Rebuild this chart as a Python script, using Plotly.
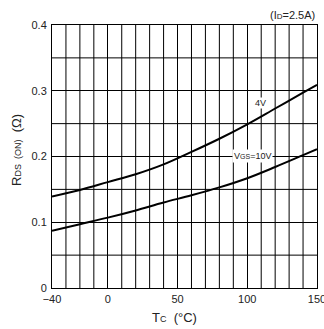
import plotly.graph_objects as go

tc = [-40, -20, 0, 20, 40, 60, 80, 100, 120, 140, 150]
r_4v = [0.139, 0.149, 0.161, 0.173, 0.188, 0.207, 0.227, 0.249, 0.273, 0.297, 0.309]
r_10v = [0.087, 0.097, 0.107, 0.118, 0.130, 0.141, 0.153, 0.167, 0.184, 0.202, 0.211]
x_ticks = [-40, 0, 50, 100, 150]
x_tick_text = ["\u221240", "0", "50", "100", "150"]
y_ticks = [0, 0.1, 0.2, 0.3, 0.4]
y_tick_text = ["0", "0.1", "0.2", "0.3", "0.4"]

font = "Liberation Sans, Arial, sans-serif"
fig = go.Figure()
for ys in (r_4v, r_10v):
    fig.add_trace(go.Scatter(x=tc, y=ys, mode="lines", line=dict(color="black", width=2, shape="spline"),
                             showlegend=False, hoverinfo="skip"))

fig.add_annotation(x=109.8, y=0.281, text="4V", showarrow=False, bgcolor="white",
                   font=dict(size=9, color="#222", family=font), borderpad=0)
fig.add_annotation(x=103.4, y=0.201, text="V<span style='font-size:7px'>GS</span>=10V", showarrow=False,
                   bgcolor="white", font=dict(size=9, color="#222", family=font), borderpad=1)
fig.add_annotation(x=1.0, y=1.0, xref="paper", yref="paper", xanchor="right", yanchor="bottom", yshift=2,
                   text="(I<span style='font-size:8px'>D</span>=2.5A)", showarrow=False,
                   font=dict(size=11, color="#222", family=font))
# axis titles
fig.add_annotation(x=0.464, y=-0.114, xref="paper", yref="paper", showarrow=False,
                   xanchor="center", yanchor="middle",
                   text="T<span style='font-size:9px'>C</span>  (°C)", font=dict(size=13, color="#222", family=font))
fig.add_annotation(x=-0.132, y=0.525, xref="paper", yref="paper", showarrow=False, textangle=-90,
                   xanchor="center", yanchor="middle",
                   text="R<span style='font-size:9px'>DS  (ON)</span>  (Ω)", font=dict(size=13, color="#222", family=font))

fig.update_xaxes(range=[-40, 150], tickvals=x_ticks, ticktext=x_tick_text, automargin=False,
                 showgrid=True, gridcolor="black", gridwidth=1, ticklabeloverflow="allow",
                 ticklabelstandoff=1,
                 showline=True, linecolor="black", linewidth=1, mirror=True,
                 zeroline=False, ticks="", tickfont=dict(size=11, color="#222", family=font))
fig.update_yaxes(range=[0, 0.4], tickvals=y_ticks, ticktext=y_tick_text, automargin=False,
                 showgrid=True, gridcolor="black", gridwidth=1, ticklabelstandoff=2,
                 showline=True, linecolor="black", linewidth=1, mirror=True,
                 zeroline=False, ticks="", tickfont=dict(size=11, color="#222", family=font))

# extra vertical gridlines every 10 and horizontal every 0.05
for v in range(-30, 150, 10):
    if v not in x_ticks:
        fig.add_vline(x=v, line=dict(color="black", width=1))
for h in [0.05, 0.15, 0.25, 0.35]:
    fig.add_hline(y=h, line=dict(color="black", width=1))

fig.update_layout(width=324, height=329, margin=dict(l=52, r=7, t=25, b=41),
                  plot_bgcolor="white", paper_bgcolor="white")
fig.write_html("out.html", config={"displayModeBar": False},
               post_script="document.body.style.margin='0';document.body.style.overflow='hidden';")
